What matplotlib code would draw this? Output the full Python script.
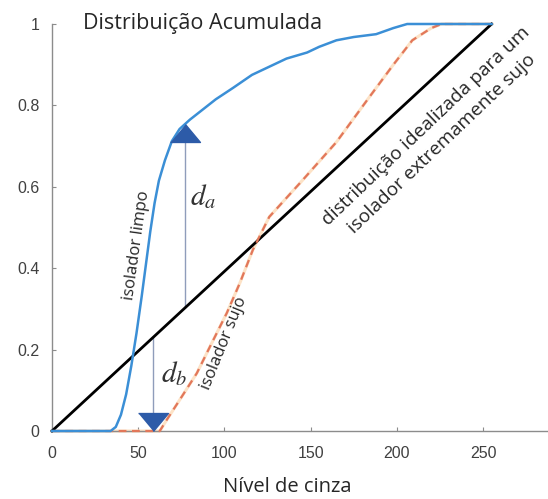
import matplotlib
matplotlib.use('Agg')
import matplotlib.pyplot as plt
import numpy as np

# curva do isolador limpo (nivel de cinza, prob. acumulada)
limpo_x = [0, 34, 37, 40, 43, 46, 49, 52, 54.5, 57, 59.5, 62, 65.5, 69.5, 74, 80, 86, 95,
           105, 116, 126, 136, 148, 155, 165, 175, 188, 198, 206, 255]
limpo_y = [0, 0, 0.01, 0.04, 0.09, 0.16, 0.24, 0.33, 0.41, 0.49, 0.56, 0.615, 0.665,
           0.712, 0.742, 0.765, 0.785, 0.815, 0.843, 0.875, 0.895, 0.915, 0.93, 0.944,
           0.96, 0.968, 0.975, 0.99, 1.0, 1.0]

# curva do isolador sujo
sujo_x = [0, 62.5, 66.5, 74, 84, 91.6, 101.4, 109, 116.5, 126, 145.5, 165, 184, 198, 209,
          220, 226, 255]
sujo_y = [0, 0, 0.027, 0.076, 0.142, 0.207, 0.29, 0.364, 0.445, 0.526, 0.617, 0.71, 0.82,
          0.9, 0.96, 0.99, 1.0, 1.0]

# distribuicao idealizada
ideal_x = [0, 255]
ideal_y = [0, 1]

# setas d_a e d_b
da_x = 77
da_y = [0.305, 0.72]
da_head = 0.731
db_x = 58.6
db_y = [0.23, 0.04]
db_head = 0.022

xticks = [0, 50, 100, 150, 200, 250]
yticks = [0, 0.2, 0.4, 0.6, 0.8, 1]
yticklabels = ['0', '0.2', '0.4', '0.6', '0.8', '1']

txt_font = 'Open Sans'
gray = '#404040'

fig = plt.figure(figsize=(5.48, 4.99), dpi=100)
ax = fig.add_axes([52/548, 68/499, 496/548, 407/499])

ax.plot(ideal_x, ideal_y, color='black', lw=2, clip_on=False, zorder=3)
ax.plot(sujo_x, sujo_y, color='#fde2c6', lw=2.2, clip_on=False, zorder=2)
ax.plot(sujo_x, sujo_y, color='#e2775a', lw=1.6, ls=(0, (3.5, 2.5)), clip_on=False, zorder=3)
ax.plot(limpo_x, limpo_y, color='#3b8fd6', lw=1.8, clip_on=False, zorder=4)

ax.plot([da_x, da_x], da_y, color='#8f9dbb', lw=1, zorder=2)
ax.plot([db_x, db_x], db_y, color='#8f9dbb', lw=1, zorder=2)
up = [(-1, -0.6), (1, -0.6), (0, 0.6)]
down = [(-1, 0.6), (1, 0.6), (0, -0.6)]
ax.plot([da_x], [da_head], marker=up, ms=21.5, color='#2d5ba8', ls='none', zorder=5)
ax.plot([db_x], [db_head], marker=down, ms=21.5, color='#2d5ba8', ls='none', zorder=5,
        clip_on=False)

ax.text(87.3, 1.0, 'Distribuição Acumulada', family=txt_font, fontsize=15.5, color='#262626',
        ha='center', va='center')
ax.text(49.3, 0.457, 'isolador limpo', family=txt_font, fontsize=12, color='#262626',
        rotation=82, ha='center', va='center', rotation_mode='anchor')
ax.text(99.8, 0.216, 'isolador sujo', family=txt_font, fontsize=12, color='#262626',
        rotation=68, ha='center', va='center', rotation_mode='anchor')
ax.text(221.6, 0.727, 'distribuição idealizada para um\nisolador extremamente sujo',
        family=txt_font, fontsize=13.8, color='#262626', rotation=43.6, ha='center',
        va='center', rotation_mode='anchor', multialignment='center', linespacing=1.4)

plt.rcParams['mathtext.fontset'] = 'stix'
ax.text(87.6, 0.575, r'$d_a$', fontsize=21, color='#333333', ha='center', va='center')
ax.text(70.8, 0.14, r'$d_b$', fontsize=21, color='#333333', ha='center', va='center')

ax.set_xlim(0, 287.7)
ax.set_ylim(0, 1)
ax.set_xticks(xticks)
ax.set_yticks(yticks)
ax.set_yticklabels(yticklabels)
for s in ['top', 'right']:
    ax.spines[s].set_visible(False)
for s in ['left', 'bottom']:
    ax.spines[s].set_color('#8c8c8c')
    ax.spines[s].set_linewidth(1)
ax.tick_params(direction='in', length=3, color='#8c8c8c', labelcolor=gray,
               labelsize=11.5)
ax.tick_params(axis='x', pad=11)
ax.tick_params(axis='y', pad=9)
for lab in ax.get_xticklabels() + ax.get_yticklabels():
    lab.set_family('Liberation Sans')

ax.set_xlabel('Nível de cinza', family=txt_font, fontsize=14.5, color='#262626')
ax.xaxis.set_label_coords(0.474, -0.113)

fig.savefig('out.png', dpi=100)
